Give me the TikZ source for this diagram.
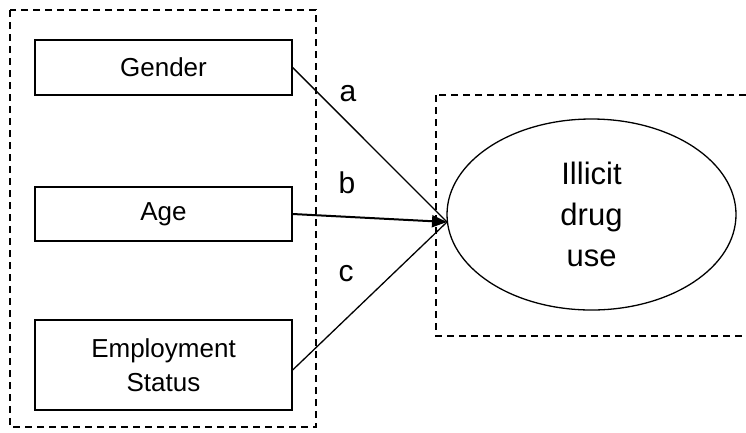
\documentclass[tikz,border=0pt]{standalone}
\usepackage{fontspec}
\setmainfont{Liberation Sans}
\usetikzlibrary{shapes.geometric,arrows.meta}
\begin{document}
\begin{tikzpicture}[x=1pt,y=-1pt,
  groupbox/.style={draw,line width=1.2pt,dash pattern=on 7pt off 5pt},
  varbox/.style={draw,line width=1.3pt,rectangle,minimum width=257pt,align=center,font=\fontsize{26}{34}\selectfont,inner sep=0pt},
  dvnode/.style={draw,line width=1.3pt,ellipse,minimum width=289pt,minimum height=191pt,align=center,font=\fontsize{31}{41}\selectfont,inner sep=0pt},
  path/.style={line width=1.3pt},
  lbl/.style={font=\fontsize{30}{36}\selectfont,anchor=base,inner sep=0pt}]
\useasboundingbox (0,0) rectangle (746,432);
\begin{scope}
\clip (0,0) rectangle (746,432);
\draw[groupbox] (436,95) rectangle (770,336);
\end{scope}
\draw[groupbox] (10,10) rectangle (316,427);
\node[varbox,minimum height=55pt] (gender) at (163.5,67.5) {Gender};
\node[varbox,minimum height=54pt] (age) at (163.5,214) {Age};
\node[varbox,minimum height=90pt] (emp) at (163.5,365) {Employment\\Status};
\node[dvnode] (dv) at (591.5,214.5) {Illicit\\drug\\use};
\coordinate (tip) at (447,222);
\draw[path] (gender.east) -- (tip);
\draw[path,line width=2pt,-{Triangle[length=15pt,width=12pt]}] (age.east) -- (tip);
\draw[path] ([yshift=-5pt]emp.east) -- (tip);
\node[lbl] (la) at (348,101) {a};
\node[lbl] (lb) at (347,193) {b};
\node[lbl] (lc) at (346,281) {c};
\end{tikzpicture}
\end{document}
